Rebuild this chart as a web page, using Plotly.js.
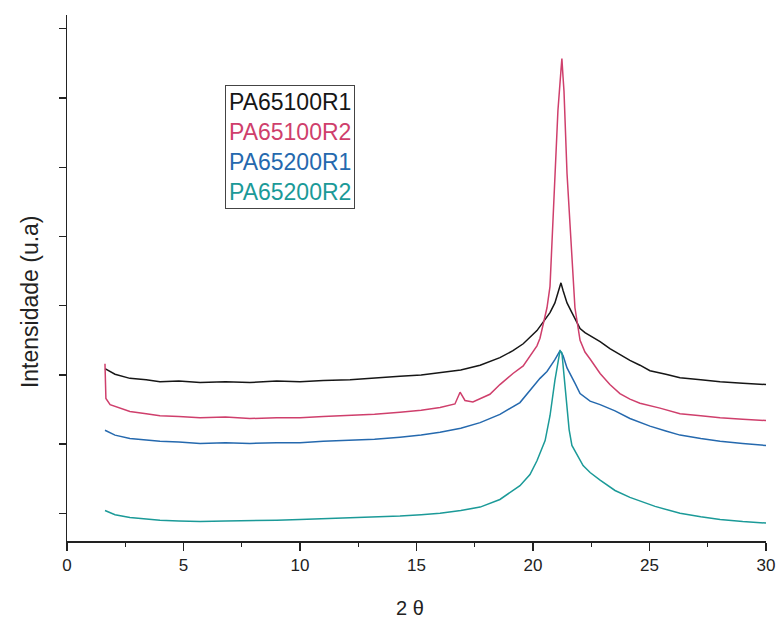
<!DOCTYPE html>
<html>
<head>
<meta charset="utf-8">
<script src="https://cdn.plot.ly/plotly-3.0.1.min.js"></script>
<style>html,body{margin:0;padding:0;background:#fff;}#chart{width:781px;height:620px;}</style>
</head>
<body>
<div id="chart"></div>
<script>
// Series names
const names = ["PA65100R1", "PA65100R2", "PA65200R1", "PA65200R2"];

// PA65100R1 (black)
const x1 = [1.63,2.06,2.70,3.40,3.99,4.80,5.71,6.80,7.85,9.00,10.0,11.0,12.15,13.2,14.29,15.2,16.01,16.9,17.73,18.58,19.14,19.58,20.17,20.43,20.73,20.94,21.07,21.20,21.29,21.46,21.67,22.02,22.23,22.45,22.66,22.88,23.30,23.73,24.16,24.59,25.02,25.7,26.31,27.2,28.03,29.0,30.0];
const y1 = [2.09,2.01,1.95,1.93,1.90,1.91,1.89,1.90,1.89,1.91,1.90,1.92,1.93,1.95,1.98,2.00,2.03,2.07,2.14,2.25,2.35,2.45,2.64,2.76,2.90,3.04,3.17,3.33,3.22,3.04,2.90,2.67,2.61,2.57,2.53,2.48,2.38,2.29,2.21,2.14,2.06,2.01,1.96,1.93,1.90,1.88,1.86];

// PA65100R2 (red)
const x2 = [1.63,1.67,1.85,2.70,3.40,3.99,4.80,5.71,6.80,7.85,9.00,10.0,11.0,12.15,13.2,14.29,15.2,16.01,16.65,16.87,17.08,17.42,17.73,18.15,18.58,19.14,19.58,19.87,20.17,20.30,20.43,20.60,20.73,20.82,20.94,21.07,21.20,21.24,21.29,21.33,21.46,21.63,21.80,22.02,22.23,22.45,22.88,23.30,23.73,24.16,24.59,25.45,26.31,27.2,28.03,29.0,30.0];
const y2 = [2.16,1.66,1.57,1.47,1.44,1.41,1.40,1.38,1.39,1.37,1.38,1.38,1.40,1.42,1.43,1.46,1.49,1.53,1.58,1.75,1.63,1.61,1.66,1.72,1.86,2.02,2.13,2.27,2.42,2.53,2.74,2.97,3.28,3.94,4.91,5.82,6.40,6.57,6.30,6.10,4.91,3.94,2.97,2.50,2.33,2.23,2.02,1.86,1.73,1.65,1.59,1.52,1.44,1.41,1.38,1.36,1.34];

// PA65200R1 (blue)
const x3 = [1.63,2.06,2.70,3.40,3.99,4.80,5.71,6.80,7.85,9.00,10.0,11.0,12.15,13.2,14.29,15.2,16.01,16.9,17.73,18.58,19.44,19.87,20.30,20.60,20.94,21.16,21.29,21.46,21.59,21.80,22.02,22.45,22.88,23.52,24.16,25.02,25.7,26.31,27.2,28.03,29.0,30.0];
const y3 = [1.20,1.13,1.08,1.06,1.04,1.03,1.01,1.02,1.01,1.02,1.02,1.04,1.05,1.07,1.10,1.13,1.17,1.23,1.31,1.43,1.60,1.77,1.95,2.05,2.22,2.35,2.28,2.10,2.02,1.88,1.73,1.62,1.57,1.48,1.37,1.26,1.19,1.13,1.08,1.04,1.01,0.98];

// PA65200R2 (teal)
const x4 = [1.63,2.06,2.70,3.40,3.99,4.80,5.71,6.80,7.85,9.00,10.0,11.0,12.15,13.2,14.29,15.2,16.01,16.9,17.73,18.58,19.44,19.87,20.17,20.52,20.73,20.94,21.07,21.16,21.24,21.33,21.42,21.55,21.67,21.89,22.15,22.45,22.88,23.52,24.16,25.24,26.31,27.2,28.03,29.0,30.0];
const y4 = [0.04,-0.02,-0.06,-0.08,-0.10,-0.11,-0.12,-0.11,-0.11,-0.10,-0.09,-0.08,-0.07,-0.06,-0.04,-0.02,0.00,0.04,0.09,0.20,0.40,0.56,0.76,1.05,1.41,1.92,2.21,2.35,2.32,1.99,1.63,1.21,0.98,0.84,0.69,0.59,0.48,0.33,0.23,0.10,0.00,-0.05,-0.09,-0.12,-0.14];

const xTicks = [0,5,10,15,20,25,30];
const colors = ["#161616", "#cf3f6c", "#2569ae", "#1b9a98"];

const xs = [x1,x2,x3,x4], ys = [y1,y2,y3,y4];
const traces = xs.map((x,i) => ({
  x: x, y: ys[i], type: "scatter", mode: "lines", name: names[i],
  line: {color: colors[i], width: 1.5}, showlegend: false
}));

const legendText = names.map((n,i) => `<span style="color:${colors[i]}">${n}</span>`).join("<br>");

const layout = {
  width: 781, height: 620,
  margin: {l: 67, r: 15, t: 15, b: 79},
  paper_bgcolor: "#fff", plot_bgcolor: "#fff",
  font: {family: "Liberation Sans, Arial, sans-serif", color: "#222"},
  xaxis: {
    range: [0, 30], tickvals: xTicks, ticktext: xTicks.map(String),
    ticks: "outside", ticklen: 8, tickwidth: 1.3, tickcolor: "#222",
    minor: {dtick: 2.5, ticks: "outside", ticklen: 4, tickcolor: "#222", tickwidth: 1},
    showline: true, linecolor: "#222", linewidth: 1.5, showgrid: false, zeroline: false,
    tickfont: {size: 17, color: "#222"},
    title: {text: ""}
  },
  yaxis: {
    range: [-0.4, 7.2], dtick: 1, tick0: 0,
    ticks: "outside", ticklen: 7, tickwidth: 1.3, tickcolor: "#222",
    showticklabels: false,
    showline: true, linecolor: "#222", linewidth: 1.5, showgrid: false, zeroline: false,
    title: {text: ""}
  },
  annotations: [{
    xref: "paper", yref: "paper", x: 0.226, y: 0.867,
    xanchor: "left", yanchor: "top", align: "left",
    text: legendText, showarrow: false,
    font: {size: 23, family: "Liberation Sans, Arial, sans-serif"},
    bordercolor: "#444", borderwidth: 1, borderpad: 3, bgcolor: "#fff"
  }, {
    xref: "paper", yref: "paper", x: -0.053, y: 0.456,
    xanchor: "center", yanchor: "middle", textangle: -90,
    text: "Intensidade (u.a)", showarrow: false,
    font: {size: 23, color: "#222"}
  }, {
    xref: "paper", yref: "paper", x: 0.491, y: -0.127,
    xanchor: "center", yanchor: "middle",
    text: "2 θ", showarrow: false,
    font: {size: 20, color: "#222"}
  }]
};

Plotly.newPlot("chart", traces, layout, {staticPlot: true});
</script>
</body>
</html>
